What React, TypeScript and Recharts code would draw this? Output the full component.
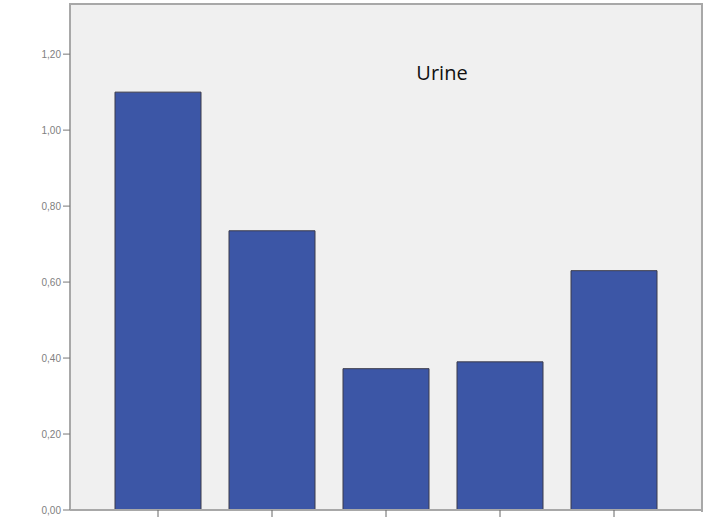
import React from 'react';
import { BarChart, Bar, XAxis, YAxis, CartesianGrid } from 'recharts';

// category labels are not shown in the source picture
const categories = ['1', '2', '3', '4', '5'];
const values = [1.1, 0.735, 0.372, 0.39, 0.63];
const yTicks = [0, 0.2, 0.4, 0.6, 0.8, 1.0, 1.2];
const title = 'Urine';

const data = categories.map((name, i) => ({ name, value: values[i] }));

const formatTick = (v: number) => v.toFixed(2).replace('.', ',');

export default function App() {
  return (
    <div style={{ position: 'absolute', left: 0, top: 0, width: 720, height: 517, background: '#fff' }}>
      <BarChart
        width={720}
        height={517}
        data={data}
        margin={{ top: 4, right: 18, left: 0, bottom: 0 }}
      >
        <CartesianGrid fill="#f0f0f0" horizontal={false} vertical={false} />
        <XAxis
          dataKey="name"
          height={7}
          padding={{ left: 31, right: 31 }}
          tickFormatter={() => ''}
          tickSize={7}
          tickLine={{ stroke: '#666' }}
          axisLine={{ stroke: '#a8a8a8', strokeWidth: 2 }}
        />
        <YAxis
          width={70}
          domain={[0, 1.332]}
          ticks={yTicks}
          tickFormatter={formatTick}
          tickSize={7}
          tickLine={{ stroke: '#777' }}
          axisLine={{ stroke: '#a8a8a8', strokeWidth: 2 }}
          tick={{ fontSize: 10, fill: '#808080', fontFamily: 'Liberation Sans, Arial, sans-serif' }}
        />
        <Bar
          dataKey="value"
          fill="#3c56a6"
          stroke="#3a3a4a"
          strokeWidth={1}
          barSize={86}
          isAnimationActive={false}
        />
      </BarChart>
      {/* frame around the plot area, top and right edges */}
      <div
        style={{
          position: 'absolute',
          left: 69,
          top: 3,
          width: 632,
          height: 507,
          borderTop: '2px solid #a8a8a8',
          borderRight: '2px solid #a8a8a8',
          pointerEvents: 'none',
        }}
      />
      <div
        style={{
          position: 'absolute',
          left: 378,
          top: 59,
          width: 128,
          textAlign: 'center',
          fontFamily: 'Open Sans, Liberation Sans, sans-serif',
          fontSize: 20,
          color: '#111',
        }}
      >
        {title}
      </div>
    </div>
  );
}
